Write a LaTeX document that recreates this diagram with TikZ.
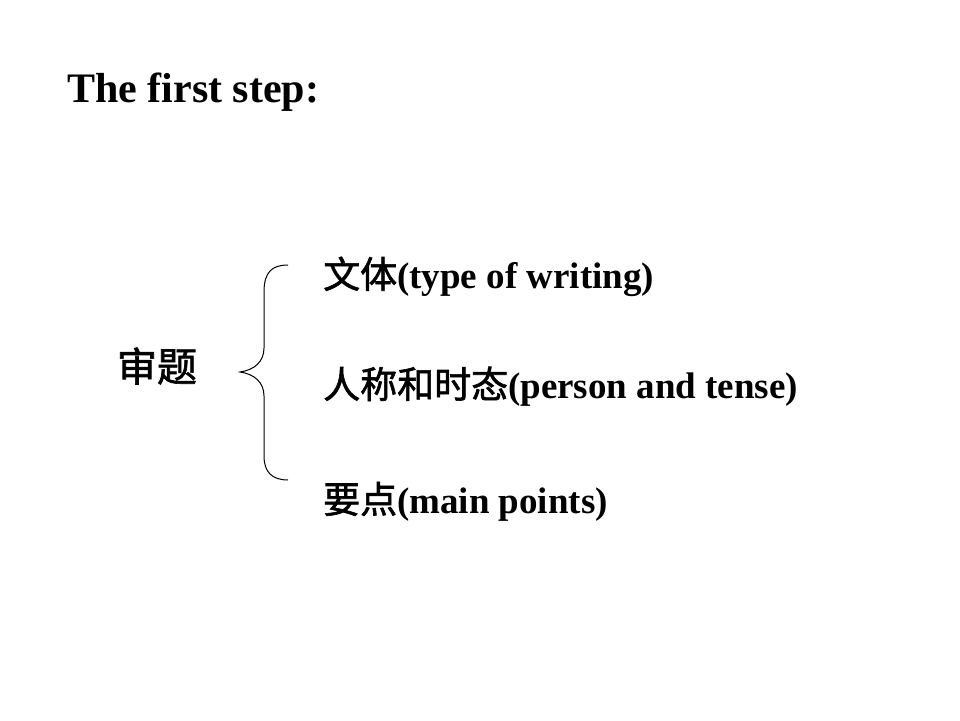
\documentclass[tikz,border=0pt]{standalone}
\usepackage{fontspec}
\setmainfont{Liberation Serif}
\newfontfamily\cjk{Noto Sans CJK SC}[BoldFont={Noto Sans CJK SC},BoldFeatures={FakeBold=1.6}]
\begin{document}
\begin{tikzpicture}[x=1pt,y=-1pt,
  lbl/.style={anchor=base west,inner sep=0pt,font=\fontsize{37}{40}\selectfont\bfseries},
  bracestyle/.style={draw=black,line width=1pt}]
\useasboundingbox[fill=white] (0,0) rectangle (960,720);
\node[anchor=base west,inner sep=0pt,font=\fontsize{42}{48}\selectfont\bfseries] (title) at (67,102) {The first step:};
\node[inner sep=0pt,font=\fontsize{40}{44}\selectfont\cjk\bfseries] (topic) at (157,366) {审题};
\node[lbl] (a) at (323,288) {{\cjk 文体}(type of writing)};
\node[lbl] (b) at (323,398) {{\cjk 人称和时态}(person and tense)};
\node[lbl] (c) at (323,513) {{\cjk 要点}(main points)};
\draw[bracestyle] (288,265) .. controls (272,265) and (264,272) .. (264,292)
  -- (264,348) .. controls (264,362) and (254,370) .. (240,372)
  .. controls (254,374) and (264,382) .. (264,396)
  -- (264,456) .. controls (264,472) and (272,480) .. (288,480);
\end{tikzpicture}
\end{document}
